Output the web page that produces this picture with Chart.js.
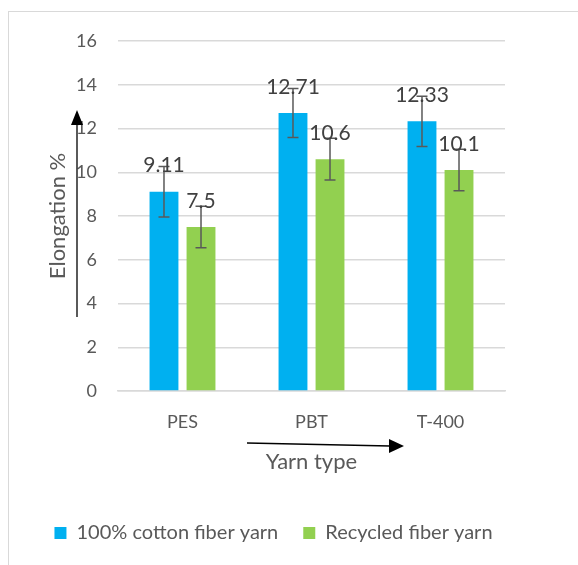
<!DOCTYPE html>
<html>
<head>
<meta charset="utf-8">
<script src="https://cdn.jsdelivr.net/npm/chart.js@4"></script>
<style>
  body { margin: 0; background: #fff; }
  .frame { position: absolute; left: 8px; top: 11px; width: 620px; height: 620px; border: 1.5px solid #d9d9d9; }
  .wrap { position: absolute; left: 0; top: 0; width: 578px; height: 565px; }
</style>
</head>
<body>
<div class="frame"></div>
<div class="wrap"><canvas id="chart" class="js-chart"></canvas></div>
<script>
const categories = ["PES", "PBT", "T-400"];
const cottonValues = [9.11, 12.71, 12.33];
const recycledValues = [7.5, 10.6, 10.1];
const cottonErrors = [1.15, 1.12, 1.15];
const recycledErrors = [0.95, 0.95, 0.95];
const yTicks = [0, 2, 4, 6, 8, 10, 12, 14, 16];

const textColor = "#595959";
const fontFamily = "Lato, 'Liberation Sans', sans-serif";

// error bars + value labels
const errorBars = {
  id: "errorBars",
  afterDatasetsDraw(chart) {
    const ctx = chart.ctx;
    const y = chart.scales.y;
    const errs = [cottonErrors, recycledErrors];
    chart.data.datasets.forEach((ds, i) => {
      chart.getDatasetMeta(i).data.forEach((bar, j) => {
        const v = ds.data[j];
        const top = y.getPixelForValue(v + errs[i][j]);
        const bot = y.getPixelForValue(v - errs[i][j]);
        ctx.save();
        ctx.strokeStyle = "#595959";
        ctx.lineWidth = 1.5;
        ctx.beginPath();
        ctx.moveTo(bar.x, top); ctx.lineTo(bar.x, bot);
        ctx.moveTo(bar.x - 5.5, top); ctx.lineTo(bar.x + 5.5, top);
        ctx.moveTo(bar.x - 5.5, bot); ctx.lineTo(bar.x + 5.5, bot);
        ctx.stroke();
        ctx.fillStyle = "#404040";
        ctx.font = "21px " + fontFamily;
        ctx.textAlign = "center";
        ctx.textBaseline = "middle";
        ctx.fillText(String(v), bar.x, bar.y - 26);
        ctx.restore();
      });
    });
  },
};

// hand-drawn arrows next to the axis titles
const arrows = {
  id: "arrows",
  afterDraw(chart) {
    const ctx = chart.ctx;
    const a = chart.chartArea;
    ctx.save();
    ctx.strokeStyle = "#000";
    ctx.fillStyle = "#000";
    ctx.lineWidth = 1.3;
    // vertical
    const vx = a.left - 41;
    ctx.beginPath();
    ctx.moveTo(vx, a.top + 276); ctx.lineTo(vx, a.top + 80);
    ctx.stroke();
    ctx.beginPath();
    ctx.moveTo(vx, a.top + 69); ctx.lineTo(vx - 6, a.top + 84); ctx.lineTo(vx + 6, a.top + 84);
    ctx.closePath(); ctx.fill();
    // horizontal
    const hy = a.bottom + 52;
    ctx.beginPath();
    ctx.moveTo(a.left + 129, hy); ctx.lineTo(a.left + 272, hy + 3);
    ctx.stroke();
    ctx.beginPath();
    ctx.moveTo(a.left + 286, hy + 3); ctx.lineTo(a.left + 271, hy - 4); ctx.lineTo(a.left + 271, hy + 10);
    ctx.closePath(); ctx.fill();
    ctx.restore();
  },
};

new Chart(document.querySelector(".js-chart"), {
  type: "bar",
  data: {
    labels: categories,
    datasets: [
      { label: "100% cotton fiber yarn", data: cottonValues, backgroundColor: "#00b0f0" },
      { label: "Recycled fiber yarn", data: recycledValues, backgroundColor: "#92d050" },
    ],
  },
  options: {
    responsive: true,
    maintainAspectRatio: false,
    animation: false,
    categoryPercentage: 0.574,
    barPercentage: 0.78,
    layout: { padding: { top: 41, left: 0, right: 31, bottom: 12 } },
    scales: {
      y: {
        min: 0,
        max: 16,
        afterBuildTicks: (axis) => { axis.ticks = yTicks.map((v) => ({ value: v })); },
        afterFit: (axis) => { axis.width = 118; },
        border: { display: false },
        grid: { color: "#d9d9d9", lineWidth: 1.5, drawTicks: false },
        ticks: { color: textColor, font: { size: 18, family: fontFamily }, padding: 21 },
        title: { display: true, text: "Elongation %", color: textColor, font: { size: 22, family: fontFamily }, padding: { top: 45, bottom: 0 } },
      },
      // empty spacer on the right
      y2: {
        position: "right",
        display: true,
        afterFit: (axis) => { axis.width = 42; },
        border: { display: false },
        grid: { display: false, drawTicks: false },
        ticks: { display: false },
      },
      x: {
        afterFit: (axis) => { axis.height = 107; },
        border: { color: "#d9d9d9", width: 1.5 },
        grid: { display: false, drawTicks: false },
        ticks: { color: textColor, font: { size: 18, family: fontFamily }, padding: 20 },
        title: { display: true, text: "Yarn type", color: textColor, font: { size: 22, family: fontFamily }, padding: { top: 0, bottom: 23 } },
      },
    },
    plugins: {
      legend: {
        position: "bottom",
        labels: { color: textColor, font: { size: 20, family: fontFamily }, boxWidth: 12, boxHeight: 12, padding: 25 },
      },
      tooltip: { enabled: false },
    },
  },
  plugins: [errorBars, arrows],
});
</script>
</body>
</html>
